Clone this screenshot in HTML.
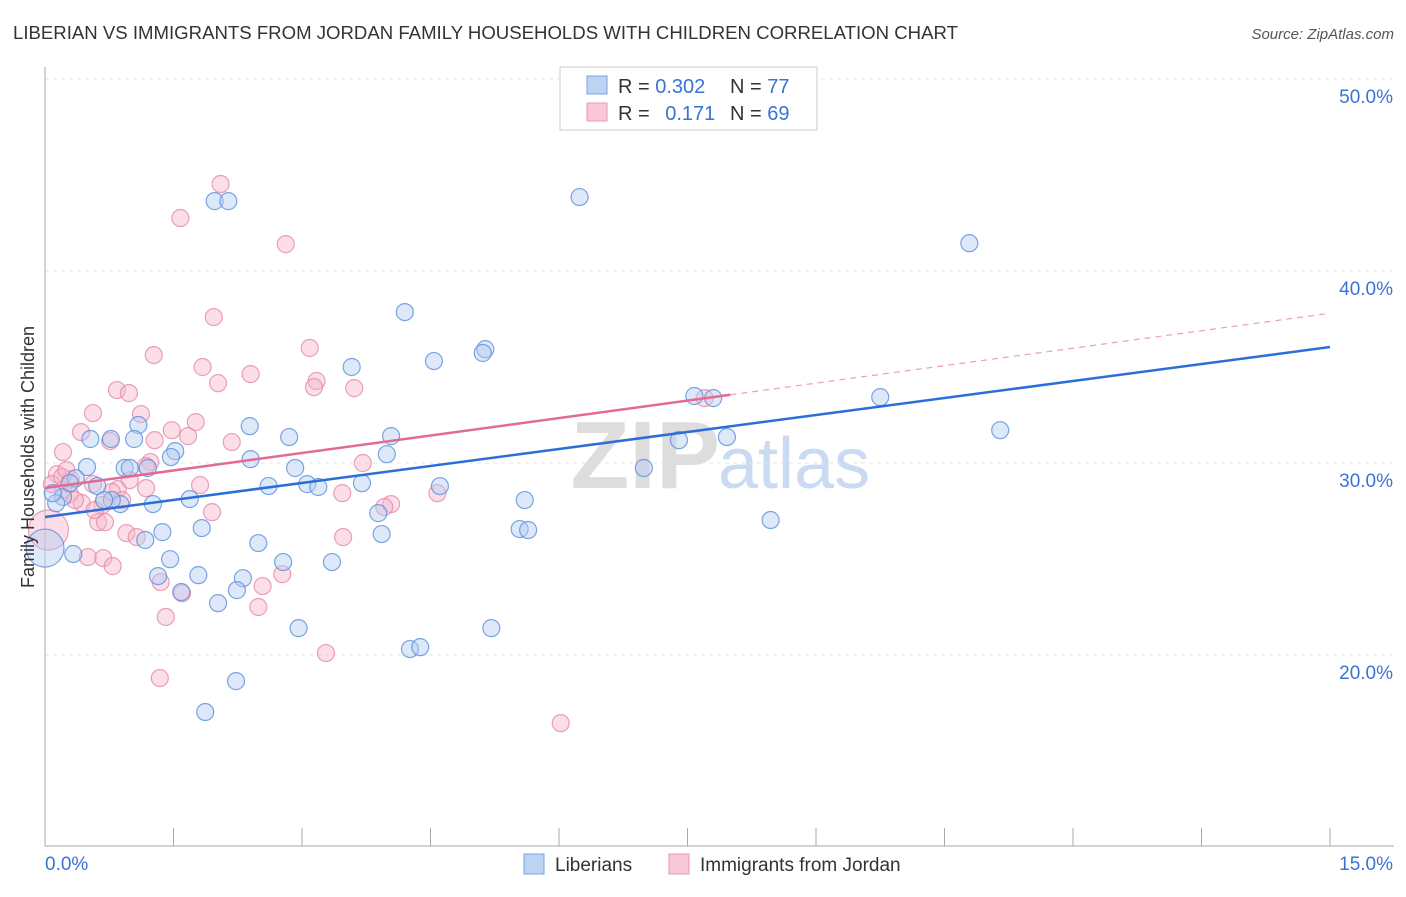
<!DOCTYPE html>
<html><head><meta charset="utf-8">
<style>
body{margin:0;background:#fff;font-family:"Liberation Sans",sans-serif;}
svg text{font-family:"Liberation Sans",sans-serif;}
</style></head>
<body>
<svg id="chart" width="1406" height="892" xmlns="http://www.w3.org/2000/svg">
<text x="13" y="39" font-size="18.6" fill="#333">LIBERIAN VS IMMIGRANTS FROM JORDAN FAMILY HOUSEHOLDS WITH CHILDREN CORRELATION CHART</text>
<text x="1394" y="39" font-size="15" fill="#555" text-anchor="end" font-style="italic">Source: ZipAtlas.com</text>
<text x="720" y="488" font-size="96" fill="#ddd" text-anchor="end" font-family="Liberation Serif" font-weight="bold">ZIP</text>
<text x="718" y="488" font-size="72" fill="#c9daf2">atlas</text>
<g id="grid"></g><g id="axes"></g><g id="pts"></g><g id="lines"></g>
<text x="34" y="457" font-size="18" fill="#333" text-anchor="middle" transform="rotate(-90 34 457)">Family Households with Children</text>
<g>
<rect x="560" y="67" width="257" height="63" fill="#fff" stroke="#ccc"/>
<rect x="587" y="76" width="20" height="18" fill="#bcd3f4" stroke="#7aa3e0"/>
<rect x="587" y="103" width="20" height="18" fill="#f9c9d8" stroke="#e996b1"/>
<text x="618" y="93" font-size="20" fill="#333">R = <tspan fill="#3a73d6">0.302</tspan></text>
<text x="730" y="93" font-size="20" fill="#333">N = <tspan fill="#3a73d6">77</tspan></text>
<text x="618" y="120" font-size="20" fill="#333">R = <tspan fill="#3a73d6" dx="10">0.171</tspan></text>
<text x="730" y="120" font-size="20" fill="#333">N = <tspan fill="#3a73d6">69</tspan></text>
</g>
<g>
<rect x="524" y="854" width="20" height="20" fill="#bcd3f4" stroke="#7aa3e0"/>
<text x="555" y="871" font-size="19" fill="#333">Liberians</text>
<rect x="669" y="854" width="20" height="20" fill="#f9c9d8" stroke="#e996b1"/>
<text x="700" y="871" font-size="19" fill="#333">Immigrants from Jordan</text>
</g>
</svg>
<script>
const blueX=[1.98,2.14,6.24,10.79,4.20,4.54,5.14,5.11,3.58,7.58,7.80,9.75,11.15,7.96,7.40,4.04,3.99,2.39,2.85,1.52,1.47,1.09,1.04,0.77,0.53,0.49,0.36,0.93,0.99,1.20,2.92,2.40,2.61,3.06,3.19,3.70,4.61,5.60,6.99,1.69,1.26,0.88,0.78,0.61,0.69,0.21,0.13,0.09,0.29,3.89,3.93,5.54,5.64,8.47,1.83,1.37,1.17,2.49,1.46,2.78,3.35,0.33,0.0,1.32,1.79,2.31,2.24,1.59,2.02,2.96,5.21,4.26,4.38,2.23,1.87];
const blueY=[43.64,43.64,43.85,41.45,37.86,35.31,35.93,35.73,35.0,33.49,33.38,33.43,31.71,31.35,31.19,31.40,30.46,31.92,31.35,30.62,30.31,31.98,31.25,31.25,31.25,29.79,29.21,29.74,29.74,29.74,29.74,30.2,28.80,28.90,28.75,28.95,28.80,28.07,29.74,28.12,27.86,27.86,28.07,28.80,28.07,28.23,27.91,28.43,28.95,27.39,26.30,26.56,26.51,27.03,26.61,26.40,25.99,25.83,24.99,24.84,24.84,25.26,25.57,24.11,24.16,24.0,23.38,23.28,22.70,21.40,21.40,20.31,20.41,18.64,17.03];
const pinkX=[2.05,1.58,2.81,1.97,3.09,1.27,1.84,2.40,2.02,3.17,3.14,3.61,0.84,0.98,0.56,1.12,0.42,1.76,1.48,1.67,0.76,1.28,2.18,0.21,1.23,1.18,0.14,0.30,0.56,0.85,1.18,1.81,3.71,0.99,0.08,0.21,0.29,0.43,0.67,0.78,3.47,4.04,3.96,4.58,1.95,0.62,0.70,0.95,1.07,3.48,0.50,0.68,0.79,1.35,2.54,2.77,1.60,2.49,1.41,3.28,1.34,6.02,7.70,0.20,0.35,0.04,0.58,0.25,0.90];
const pinkY=[44.53,42.76,41.40,37.60,35.99,35.62,35.0,34.63,34.16,34.27,33.95,33.90,33.80,33.64,32.60,32.55,31.61,32.13,31.71,31.40,31.14,31.19,31.09,30.57,30.05,29.84,29.42,29.16,28.90,28.64,28.69,28.85,30.0,29.11,28.90,28.59,28.38,27.91,27.81,28.49,28.43,27.86,27.71,28.43,27.44,26.92,26.92,26.35,26.14,26.14,25.10,25.05,24.63,23.80,23.59,24.21,23.22,22.50,21.98,20.10,18.80,16.45,33.38,29.27,28.07,26.51,27.55,29.63,28.07];
const yTicks=[20,30,40,50];
const xTickLabels=["0.0%","15.0%"];
const blueTrend=[27.19,36.04];
const pinkTrend=[28.7,37.8];
const pinkSolidEnd=8.0;
const NS="http://www.w3.org/2000/svg";
const xs=v=>45+v*(1285/15);
const ys=v=>847-(v-10)*19.2;
function el(tag,attrs,parent){const e=document.createElementNS(NS,tag);for(const k in attrs)e.setAttribute(k,attrs[k]);parent.appendChild(e);return e;}
const grid=document.getElementById('grid'),axes=document.getElementById('axes'),pts=document.getElementById('pts'),lines=document.getElementById('lines');
yTicks.forEach(t=>{
 const g=el('line',{x1:45,x2:1394,y1:ys(t),y2:ys(t),stroke:'#e4e4e4','stroke-dasharray':'4,4'},grid);
 
 
 const tx=el('text',{x:1393,y:ys(t)+24,'font-size':19,fill:'#3a73d6','text-anchor':'end'},axes);
 tx.textContent=t.toFixed(1)+'%';
 
 
});
const ax=el('line',{x1:45,x2:45,y1:67,y2:846,stroke:'#aaa'},axes);


const bx=el('line',{x1:45,x2:1394,y1:846,y2:846,stroke:'#aaa'},axes);


for(let i=0;i<=10;i++){const t=el('line',{x1:xs(i*1.5),x2:xs(i*1.5),y1:828,y2:846,stroke:'#aaa'},axes);
 
 }
const l0=el('text',{x:45,y:870,'font-size':19,fill:'#3a73d6'},axes);l0.textContent=xTickLabels[0];


const l1=el('text',{x:1393,y:870,'font-size':19,fill:'#3a73d6','text-anchor':'end'},axes);l1.textContent=xTickLabels[1];


function drawPts(X,Y,fill,stroke,name,bigIdx,bigR){
 X.forEach((x,i)=>{const c=el('circle',{cx:xs(x),cy:ys(Y[i]),r:i===bigIdx?bigR:8.5,fill:fill,'fill-opacity':0.45,stroke:stroke,'stroke-opacity':0.8,'stroke-width':1.2},pts);
 
 });
}
drawPts(pinkX,pinkY,'#f6b6ca','#e58aa9','point-jordan',65,20);
drawPts(blueX,blueY,'#b3cdf1','#5b8fdc','point-liberian',62,19);
const bl=el('line',{x1:xs(0),y1:ys(blueTrend[0]),x2:xs(15),y2:ys(blueTrend[1]),stroke:'#2a6fd6','stroke-width':2.5},lines);


const pf=v=>pinkTrend[0]+(pinkTrend[1]-pinkTrend[0])*v/15;
const pl=el('line',{x1:xs(0),y1:ys(pf(0)),x2:xs(pinkSolidEnd),y2:ys(pf(pinkSolidEnd)),stroke:'#e36a94','stroke-width':2.5},lines);


const pd=el('line',{x1:xs(pinkSolidEnd),y1:ys(pf(pinkSolidEnd)),x2:xs(15),y2:ys(pf(15)),stroke:'#e8a0b8','stroke-width':1.2,'stroke-dasharray':'6,5'},lines);


</script>
</body></html>
